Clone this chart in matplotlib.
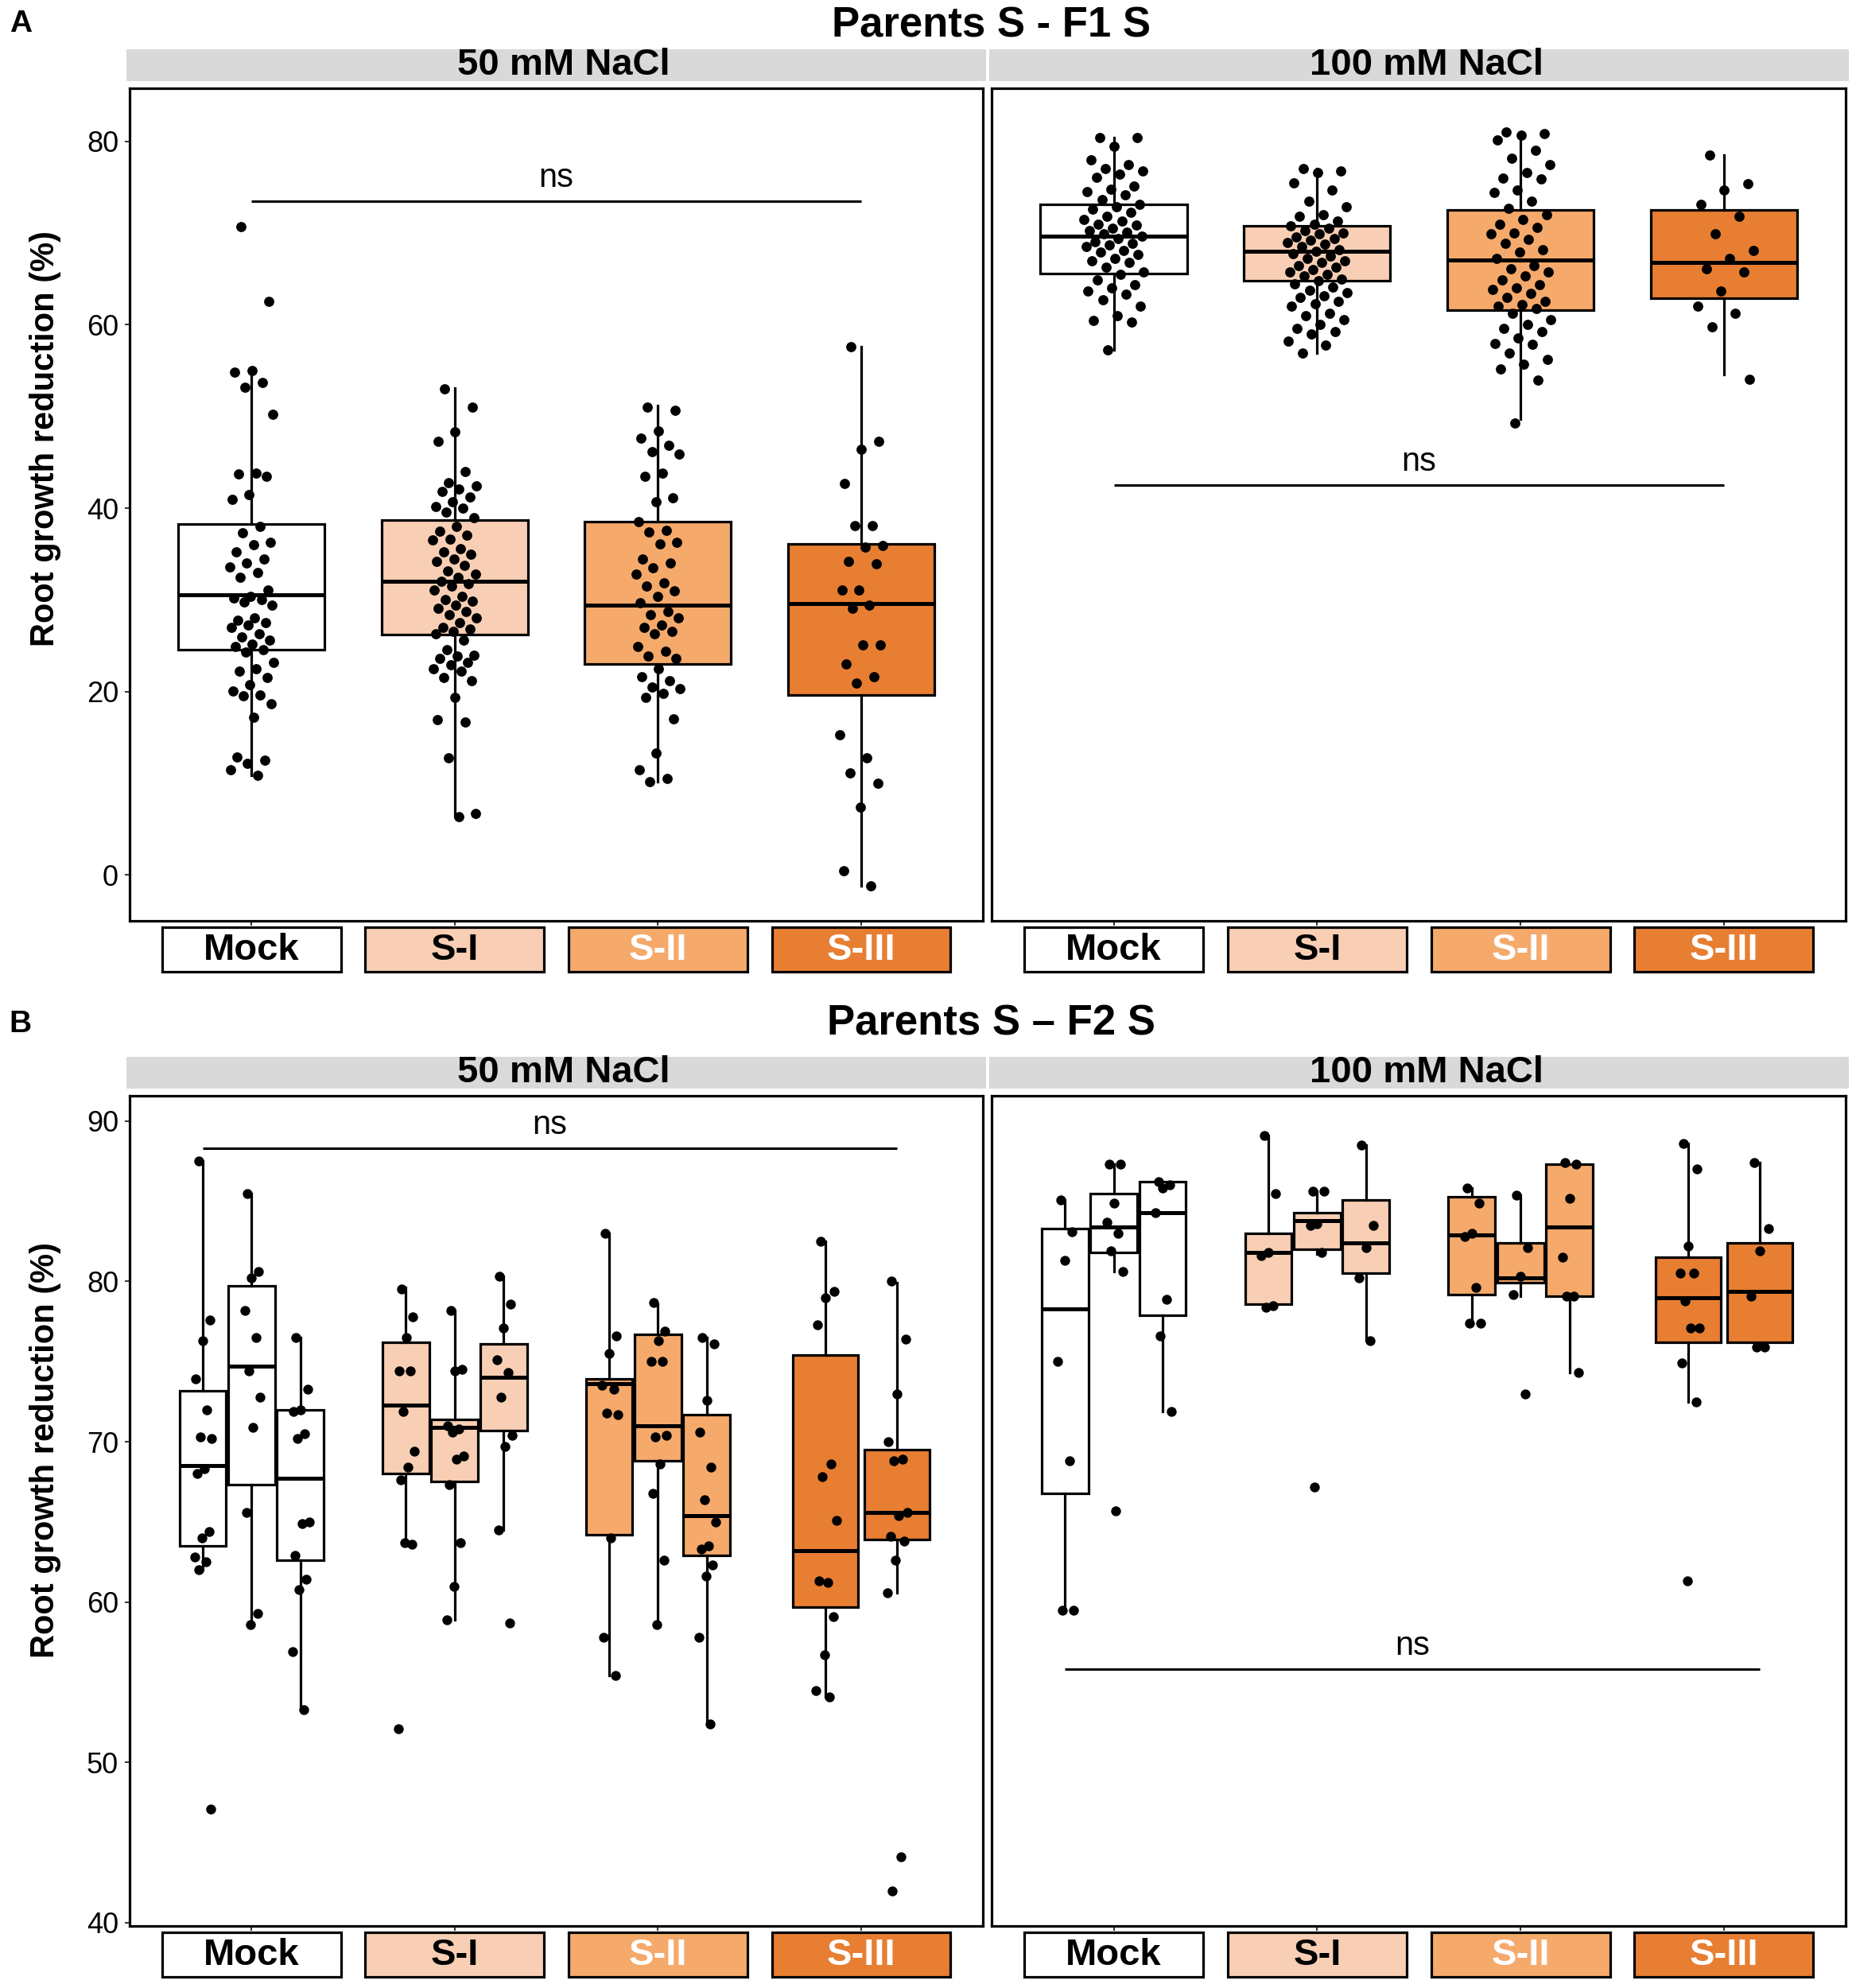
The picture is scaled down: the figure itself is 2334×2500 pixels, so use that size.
import matplotlib
matplotlib.use('Agg')
import matplotlib.pyplot as plt
from matplotlib.patches import Rectangle
import matplotlib.transforms as mtrans
import numpy as np

plt.rcParams['font.family'] = ['Liberation Sans', 'DejaVu Sans']

# ---------------- data ----------------
categories = ['Mock', 'S-I', 'S-II', 'S-III']
fill_colors = ['#FFFFFF', '#F8CFB4', '#F5A96B', '#E77E32']
label_colors = ['black', 'black', 'white', 'white']
conditions = ['50 mM NaCl', '100 mM NaCl']
title_a = 'Parents S - F1 S'
title_b = 'Parents S \u2013 F2 S'
ylabel = 'Root growth reduction (%)'
yticks_a = [0, 20, 40, 60, 80]
yticks_b = [40, 50, 60, 70, 80, 90]

# Panel A, 50 mM: box statistics per category
a50_q1 = [24.6, 26.2, 23.0, 19.6]
a50_med = [30.6, 32.0, 29.4, 29.6]
a50_q3 = [38.3, 38.7, 38.5, 36.1]
a50_lo = [10.9, 6.4, 10.2, -1.2]
a50_hi = [55.1, 53.1, 51.2, 57.6]
a50_mock = [70.7, 62.6, 55.0, 54.8, 53.7, 53.2, 50.2, 43.8, 43.7, 43.5, 41.5, 41.0,
            38.0, 37.3, 36.3, 36.0, 35.2, 34.5, 34.0, 33.6, 33.0, 32.5, 31.1, 30.4,
            30.2, 30.0, 29.8, 29.4, 28.0, 27.8, 27.5, 27.3, 27.0, 26.3, 26.0, 25.6,
            25.2, 24.9, 24.6, 24.3, 23.2, 22.5, 22.2, 21.5, 20.8, 20.1, 19.6, 19.5,
            18.7, 17.2, 12.9, 12.5, 12.2, 11.5, 10.9]
a50_si = [53.0, 51.0, 48.3, 47.3, 44.0, 42.8, 42.4, 42.1, 41.8, 41.2, 40.7, 40.2,
          40.0, 39.6, 39.0, 38.0, 37.5, 37.1, 36.6, 36.5, 35.6, 35.2, 35.0, 34.5,
          34.2, 33.8, 33.2, 32.8, 32.5, 32.0, 31.8, 31.5, 31.1, 30.4, 30.0, 29.9,
          29.4, 29.1, 28.7, 28.4, 28.0, 27.5, 27.0, 26.8, 26.6, 26.3, 25.6, 24.6,
          24.0, 23.9, 23.6, 23.2, 22.9, 22.5, 22.2, 21.5, 21.2, 19.4, 16.9, 16.7,
          12.8, 6.7, 6.4]
a50_sii = [51.0, 50.7, 48.4, 47.6, 46.9, 46.2, 45.9, 43.8, 43.5, 41.1, 40.7, 38.5,
           37.6, 37.4, 36.3, 36.1, 34.5, 34.0, 33.5, 32.8, 31.9, 31.5, 31.0, 30.4,
           29.7, 28.7, 28.4, 28.0, 27.3, 27.0, 26.6, 26.3, 24.9, 24.4, 23.9, 23.6,
           22.5, 21.6, 21.2, 20.5, 20.3, 19.8, 19.4, 17.0, 13.3, 11.5, 10.5, 10.2]
a50_siii = [57.6, 47.3, 46.4, 42.7, 38.1, 38.1, 35.9, 35.8, 34.2, 33.9, 31.1, 31.1,
            29.4, 29.1, 25.1, 25.1, 23.0, 21.6, 20.9, 15.3, 12.8, 11.1, 10.0, 7.4,
            0.5, -1.2]

# Panel A, 100 mM
a100_q1 = [65.6, 64.8, 61.6, 62.9]
a100_med = [69.7, 68.0, 67.1, 66.8]
a100_q3 = [73.1, 70.8, 72.5, 72.5]
a100_lo = [57.3, 56.9, 49.7, 54.6]
a100_hi = [80.4, 77.0, 81.0, 78.5]
a100_mock = [80.4, 80.4, 79.5, 78.0, 77.5, 77.0, 76.8, 76.4, 76.1, 75.1, 74.8, 74.5,
             74.2, 73.7, 73.1, 72.9, 72.6, 72.3, 71.8, 71.5, 71.3, 71.0, 70.9, 70.5,
             70.3, 70.1, 69.9, 69.7, 69.4, 69.1, 68.9, 68.7, 68.5, 68.1, 67.9, 67.7,
             67.2, 67.0, 66.8, 66.3, 65.8, 65.5, 64.9, 64.4, 64.0, 63.7, 63.3, 62.7,
             62.0, 61.0, 60.5, 60.3, 57.3]
a100_si = [77.0, 76.8, 76.6, 75.5, 74.7, 73.5, 72.9, 72.0, 71.8, 71.3, 71.0, 70.8,
           70.5, 70.3, 70.0, 69.9, 69.6, 69.4, 69.2, 69.0, 68.8, 68.5, 68.2, 68.0,
           67.8, 67.5, 67.2, 67.0, 66.8, 66.5, 66.3, 66.0, 65.8, 65.5, 65.3, 65.0,
           64.8, 64.5, 64.1, 63.8, 63.5, 63.2, 63.0, 62.6, 62.3, 62.0, 61.3, 61.0,
           60.6, 60.0, 59.6, 59.3, 59.0, 58.2, 57.8, 56.9]
a100_sii = [81.0, 80.9, 80.7, 80.2, 79.0, 78.2, 77.5, 76.6, 76.0, 75.9, 74.7, 74.4,
            73.5, 72.7, 72.0, 71.5, 71.0, 70.6, 70.0, 69.9, 69.3, 68.9, 68.2, 67.9,
            67.2, 66.5, 66.1, 65.8, 65.3, 64.9, 64.4, 64.0, 63.9, 63.4, 63.0, 62.6,
            62.2, 62.0, 61.8, 61.3, 60.6, 60.0, 59.6, 59.3, 58.6, 58.0, 57.9, 56.9,
            56.2, 55.7, 55.2, 54.0, 49.3]
a100_siii = [78.5, 75.4, 74.7, 73.1, 71.8, 69.9, 68.1, 67.2, 66.1, 65.8, 63.7, 62.0,
             61.3, 59.8, 54.1]

# Panel B: three (or two) sub-groups per category; stats [q1, med, q3, lo, hi]
b50_mock_stats = [[63.5, 68.5, 73.2, 62.0, 87.5], [67.3, 74.7, 79.7, 58.6, 85.5],
                  [62.6, 67.7, 72.0, 53.3, 76.5]]
b50_si_stats = [[68.0, 72.3, 76.2, 63.6, 79.6], [67.5, 70.9, 71.4, 58.9, 78.2],
                [70.7, 74.0, 76.1, 64.5, 80.3]]
b50_sii_stats = [[64.2, 73.6, 73.9, 55.4, 83.0], [68.8, 71.0, 76.7, 58.6, 78.6],
                 [62.9, 65.4, 71.7, 52.4, 76.5]]
b50_siii_stats = [[59.7, 63.2, 75.4, 54.1, 82.5], [63.9, 65.6, 69.5, 60.6, 79.9]]
b50_mock = [[87.5, 77.6, 76.3, 73.9, 72.0, 70.3, 70.2, 68.3, 68.0, 64.4, 64.0, 62.8, 62.5, 62.0, 47.1],
            [85.5, 80.6, 80.2, 78.2, 76.5, 74.4, 72.8, 70.9, 65.6, 59.3, 58.6],
            [76.5, 73.3, 72.0, 71.9, 70.5, 70.2, 65.0, 64.9, 62.9, 61.4, 60.8, 56.9, 53.3]]
b50_si = [[79.5, 77.8, 76.5, 74.4, 74.4, 71.9, 69.4, 68.4, 67.6, 63.6, 63.7, 52.1],
          [78.2, 74.5, 74.4, 71.0, 70.8, 70.6, 69.1, 68.9, 67.3, 63.7, 61.0, 58.9],
          [80.3, 78.6, 77.1, 75.1, 74.3, 72.8, 70.4, 69.7, 64.5, 58.7]]
b50_sii = [[83.0, 76.6, 75.5, 73.5, 73.3, 71.8, 71.7, 64.0, 57.8, 55.4],
           [78.7, 76.9, 76.3, 75.0, 75.0, 70.3, 70.4, 68.6, 66.8, 62.6, 58.6],
           [76.5, 76.1, 72.6, 70.6, 68.4, 66.4, 65.0, 63.5, 63.3, 62.3, 61.6, 57.8, 52.4]]
b50_siii = [[82.5, 79.4, 79.0, 77.3, 68.6, 67.8, 65.1, 61.2, 61.3, 59.1, 56.7, 54.5, 54.1],
            [80.0, 76.4, 73.0, 70.0, 68.9, 68.8, 65.6, 65.4, 64.1, 63.8, 62.6, 60.6, 44.1, 42.0]]

b100_mock_stats = [[66.8, 78.3, 83.3, 59.5, 85.1], [81.8, 83.4, 85.5, 80.6, 87.3],
                   [77.9, 84.3, 86.2, 71.9, 86.2]]
b100_si_stats = [[78.6, 81.8, 83.0, 78.4, 89.1], [82.0, 83.8, 84.3, 81.7, 85.6],
                 [80.5, 82.4, 85.1, 76.3, 88.5]]
b100_sii_stats = [[79.2, 82.9, 85.3, 77.4, 85.8], [79.9, 80.2, 82.4, 79.1, 85.4],
                  [79.1, 83.4, 87.3, 74.3, 87.3]]
b100_siii_stats = [[76.2, 79.0, 81.5, 72.5, 88.6], [76.2, 79.4, 82.4, 75.9, 87.4]]
b100_mock = [[85.1, 83.1, 81.3, 75.0, 68.8, 59.5, 59.5],
             [87.3, 87.3, 84.9, 83.7, 83.0, 81.9, 80.6, 65.7],
             [86.2, 86.0, 85.8, 84.3, 78.9, 76.6, 71.9]]
b100_si = [[89.1, 85.5, 81.8, 81.6, 78.5, 78.4],
           [85.6, 85.6, 83.6, 83.5, 81.8, 67.2],
           [88.5, 83.5, 82.1, 80.2, 76.3]]
b100_sii = [[85.8, 84.9, 83.0, 82.8, 79.6, 77.4, 77.4],
            [85.4, 82.1, 80.3, 79.2, 73.0],
            [87.4, 87.3, 85.2, 81.5, 79.1, 79.1, 74.3]]
b100_siii = [[88.6, 87.0, 82.2, 80.5, 80.5, 78.8, 77.1, 77.1, 74.9, 72.5, 61.3],
             [87.4, 83.3, 81.9, 79.1, 75.9, 75.9]]

# significance bars (y value)
ns_a = [73.5, 42.5]
ns_b = [88.3, 55.8]

# ---------------- drawing ----------------
W, H = 23.34, 25.0
fig = plt.figure(figsize=(W, H), dpi=100)

LW = 2.3


def jitter(n, jw):
    return jw * (2 * ((np.arange(n) * 0.618034 + 0.27) % 1.0) - 1)


def draw_box(ax, pos, width, q1, med, q3, lo, hi, pts, color, jw, ms=72):
    st = dict(q1=q1, med=med, q3=q3, whislo=lo, whishi=hi, fliers=[])
    ax.bxp([st], positions=[pos], widths=[width], patch_artist=True,
           showfliers=False, showcaps=False, manage_ticks=False,
           boxprops=dict(facecolor=color, edgecolor='black', linewidth=LW),
           whiskerprops=dict(color='black', linewidth=LW),
           medianprops=dict(color='black', linewidth=3.6, solid_capstyle='butt'))
    pts = np.asarray(pts, dtype=float)
    ax.scatter(pos + jitter(len(pts), jw), pts, s=ms, color='black',
               linewidths=0, zorder=4)


def style_axes(ax, ylim, yticks, left):
    ax.set_xlim(0.4, 4.6)
    ax.set_ylim(*ylim)
    for sp in ax.spines.values():
        sp.set_linewidth(LW)
        sp.set_color('black')
    ax.set_xticks([1, 2, 3, 4])
    ax.set_xticklabels(categories, fontsize=34, fontweight='bold')
    ax.tick_params(axis='x', length=4.5, width=1.4, color='#333333', pad=22.0)
    for lab, c in zip(ax.get_xticklabels(), label_colors):
        lab.set_color(c)
        lab.set_va('center')
    tr = mtrans.blended_transform_factory(ax.transData, ax.transAxes)
    for i, c in enumerate(fill_colors):
        ax.add_patch(Rectangle((i + 1 - 0.44, -0.0615), 0.88, 0.054, transform=tr,
                               facecolor=c, edgecolor='black', linewidth=LW,
                               clip_on=False, zorder=0.5))
    if left:
        ax.set_yticks(yticks)
        ax.set_yticklabels([str(t) for t in yticks], fontsize=26)
        ax.tick_params(axis='y', length=4, width=1.4, color='#333333', pad=6)
        ax.set_ylabel(ylabel, fontsize=30, fontweight='bold')
    else:
        ax.set_yticks(yticks)
        ax.tick_params(axis='y', left=False, labelleft=False)


def ns_bar(ax, x0, x1, y):
    ax.plot([x0, x1], [y, y], color='black', linewidth=2.2, solid_capstyle='butt')
    ax.annotate('ns', xy=((x0 + x1) / 2, y), xytext=(0, 21), textcoords='offset points',
                ha='center', va='center', fontsize=30)


def strip(ax, text):
    bb = ax.get_position()
    fig.add_artist(Rectangle((bb.x0 - 0.0015, bb.y1 + 0.0035), bb.width + 0.003, 0.016,
                             transform=fig.transFigure, facecolor='#D9D9D9',
                             edgecolor='none'))
    fig.text((bb.x0 + bb.x1) / 2 + 0.004, bb.y1 + 0.0035 + 0.008, text, ha='center',
             va='center', fontsize=34, fontweight='bold')


xl = [0.0698, 0.5343]
pw = [0.4599, 0.4603]
ya, ha = 0.5368, 0.4188
yb, hb = 0.0312, 0.4178

# ---- Panel A ----
ylim_a = (-5.0, 85.8)
a_groups = [
    (a50_q1, a50_med, a50_q3, a50_lo, a50_hi, [a50_mock, a50_si, a50_sii, a50_siii]),
    (a100_q1, a100_med, a100_q3, a100_lo, a100_hi, [a100_mock, a100_si, a100_sii, a100_siii]),
]
jw_a = [0.11, 0.15]
axes_a = []
for j in range(2):
    ax = fig.add_axes([xl[j], ya, pw[j], ha])
    q1, med, q3, lo, hi, pts = a_groups[j]
    for i in range(4):
        draw_box(ax, i + 1, 0.72, q1[i], med[i], q3[i], lo[i], hi[i], pts[i],
                 fill_colors[i], jw_a[j], ms=85)
    style_axes(ax, ylim_a, yticks_a, j == 0)
    ns_bar(ax, 1, 4, ns_a[j])
    strip(ax, conditions[j])
    axes_a.append(ax)
axes_a[0].yaxis.set_label_coords(-0.099, 0.579)
axes_a[0].yaxis.label.set_va('center')

# ---- Panel B ----
ylim_b = (39.8, 91.6)
b_stats = [[b50_mock_stats, b50_si_stats, b50_sii_stats, b50_siii_stats],
           [b100_mock_stats, b100_si_stats, b100_sii_stats, b100_siii_stats]]
b_pts = [[b50_mock, b50_si, b50_sii, b50_siii],
         [b100_mock, b100_si, b100_sii, b100_siii]]
axes_b = []
for j in range(2):
    ax = fig.add_axes([xl[j], yb, pw[j], hb])
    for i in range(4):
        sts = b_stats[j][i]
        n = len(sts)
        if n == 3:
            offs, wd, jw = [-0.24, 0.0, 0.24], 0.23, 0.045
        else:
            offs, wd, jw = [-0.175, 0.175], 0.32, 0.055
        for k in range(n):
            q1, med, q3, lo, hi = sts[k]
            draw_box(ax, i + 1 + offs[k], wd, q1, med, q3, lo, hi, b_pts[j][i][k],
                     fill_colors[i], jw, ms=80)
    style_axes(ax, ylim_b, yticks_b, j == 0)
    ns_bar(ax, 1 - 0.24, 4 + 0.175, ns_b[j])
    strip(ax, conditions[j])
    axes_b.append(ax)
axes_b[0].yaxis.set_label_coords(-0.099, 0.573)
axes_b[0].yaxis.label.set_va('center')

# titles and panel letters
fig.text(0.534, 0.987, title_a, ha='center', va='center', fontsize=38, fontweight='bold')
fig.text(0.534, 0.485, title_b, ha='center', va='center', fontsize=38, fontweight='bold')
fig.text(0.011, 0.988, 'A', ha='center', va='center', fontsize=28, fontweight='bold')
fig.text(0.011, 0.485, 'B', ha='center', va='center', fontsize=28, fontweight='bold')

fig.savefig('out.png', dpi=100, facecolor='white')
